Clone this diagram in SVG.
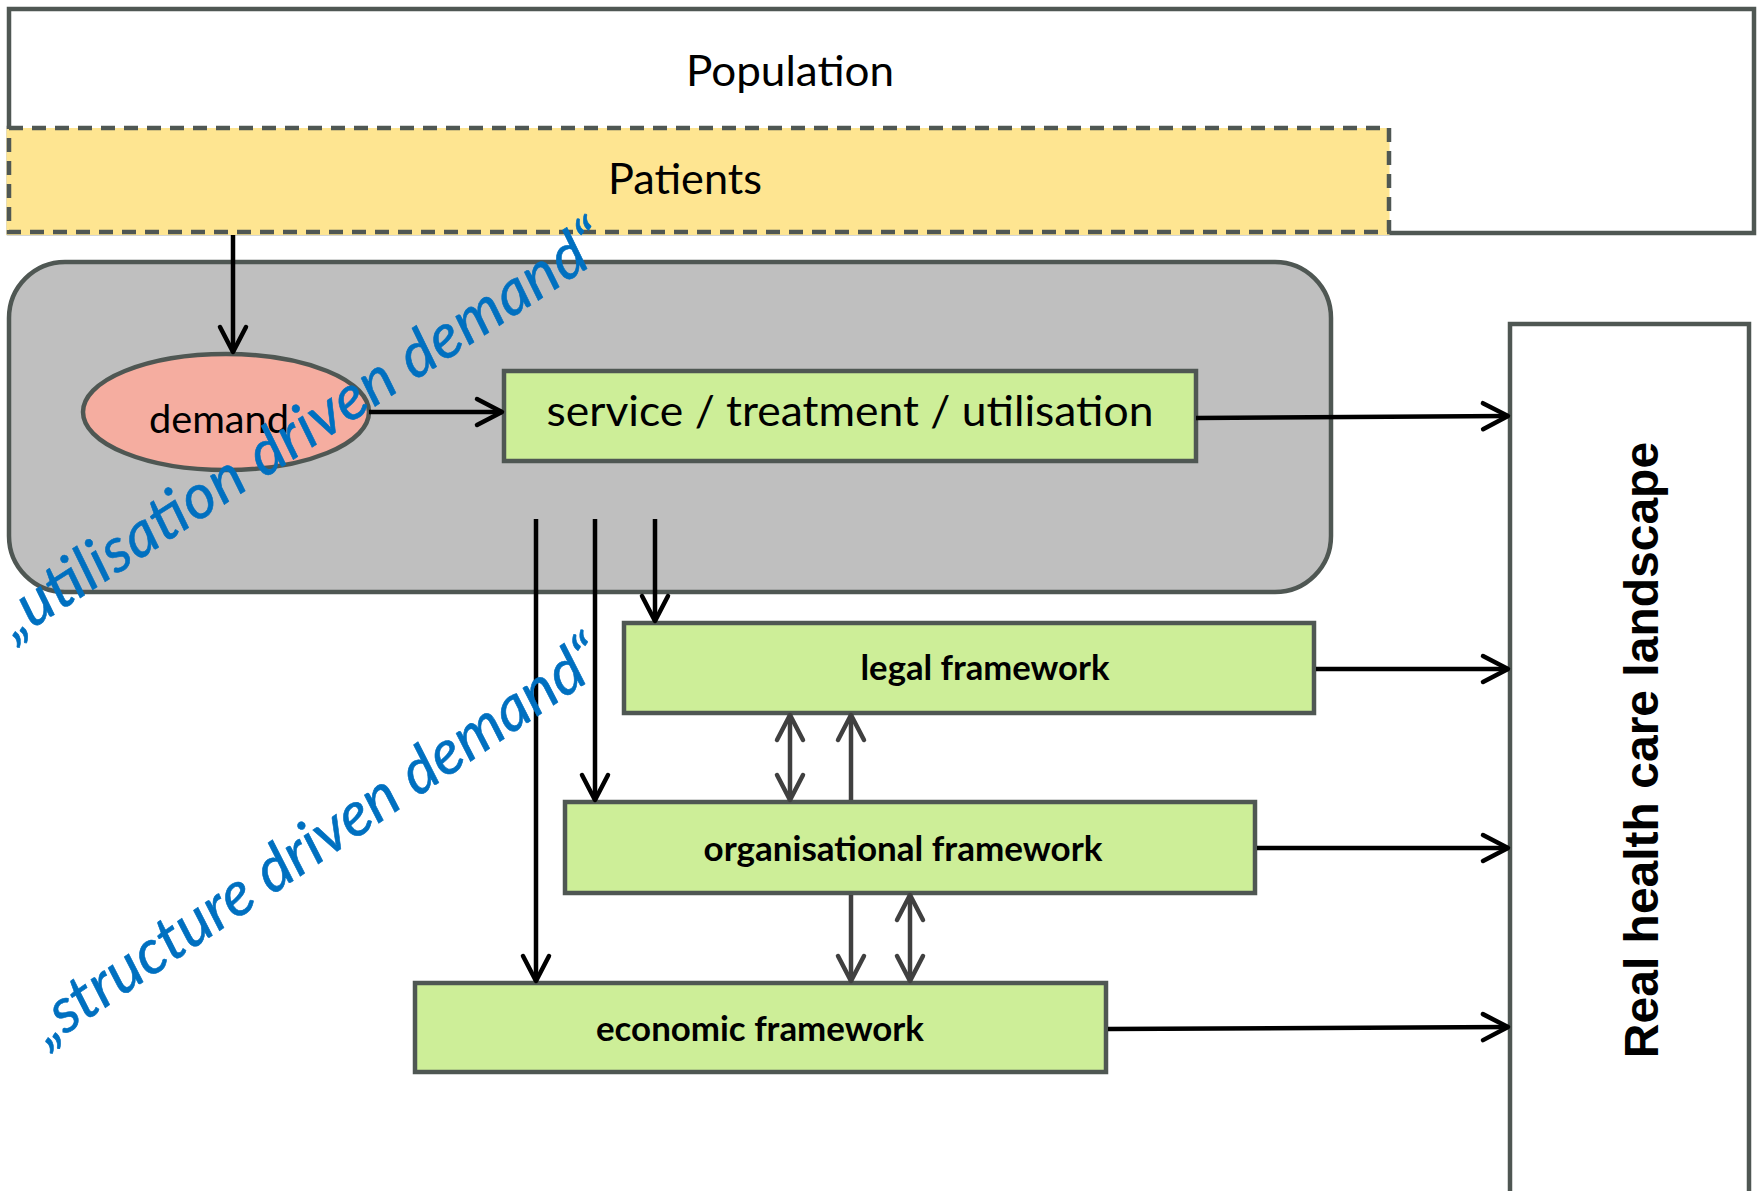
<svg xmlns="http://www.w3.org/2000/svg" width="1757" height="1191" viewBox="0 0 1757 1191">
<style>
.box{stroke:#4f5753;stroke-width:4.5}
.green{fill:#cdee98}
.lbl{font-family:Lato,"Open Sans",sans-serif;font-size:43px;fill:#000;text-anchor:middle}
.blbl{font-family:Lato,"Open Sans",sans-serif;font-size:34px;font-weight:bold;fill:#000;text-anchor:middle}
.blue{font-family:Lato,"Open Sans",sans-serif;font-size:62px;font-style:italic;fill:#0070c0;stroke:#0070c0;stroke-width:0.6;text-anchor:start}
.con{fill:none;stroke:#000;stroke-width:4.5}
.gcon{fill:none;stroke:#404040;stroke-width:4.5}
</style>
<defs>
<marker id="ah" markerWidth="34" markerHeight="32" refX="29" refY="16" orient="auto-start-reverse" markerUnits="userSpaceOnUse" overflow="visible">
<path d="M4,3 L29,16 L4,29" fill="none" stroke="#000" stroke-width="4.5" stroke-linecap="round" stroke-linejoin="round"/>
</marker>
<marker id="gah" markerWidth="34" markerHeight="32" refX="29" refY="16" orient="auto-start-reverse" markerUnits="userSpaceOnUse" overflow="visible">
<path d="M4,3 L29,16 L4,29" fill="none" stroke="#404040" stroke-width="4.5" stroke-linecap="round" stroke-linejoin="round"/>
</marker>
</defs>
<rect width="1757" height="1191" fill="#fff"/>

<g id="population">
<rect class="box" x="9" y="9" width="1745" height="224" fill="#fff"/>
<text class="lbl" x="790" y="86" textLength="208" lengthAdjust="spacingAndGlyphs">Population</text>
</g>

<g id="patients">
<rect x="6.5" y="128" width="1383" height="107" fill="#fee591"/>
<rect x="9" y="128" width="1380" height="104" fill="none" stroke="#4f5753" stroke-width="4.5" stroke-dasharray="14 9"/>
<text class="lbl" x="685" y="194" textLength="154" lengthAdjust="spacingAndGlyphs">Patients</text>
</g>

<g id="utilisation-area">
<rect class="box" x="9" y="262" width="1322" height="330" rx="56" ry="56" fill="#bfbfbf"/>
</g>

<g id="demand">
<ellipse class="box" cx="226" cy="412" rx="143" ry="58" fill="#f5ada0"/>
<text class="lbl" x="219" y="433" style="font-size:39px" textLength="140" lengthAdjust="spacingAndGlyphs">demand</text>
</g>

<g id="service">
<rect class="box green" x="504" y="371" width="692" height="90"/>
<text class="lbl" x="850" y="426" textLength="607" lengthAdjust="spacingAndGlyphs">service / treatment / utilisation</text>
</g>

<g id="legal">
<rect class="box green" x="624" y="623" width="690" height="90"/>
<text class="blbl" x="985" y="680" textLength="249" lengthAdjust="spacingAndGlyphs">legal framework</text>
</g>

<g id="organisational">
<rect class="box green" x="565" y="802" width="690" height="91"/>
<text class="blbl" x="903" y="861" textLength="399" lengthAdjust="spacingAndGlyphs">organisational framework</text>
</g>

<g id="economic">
<rect class="box green" x="415" y="983" width="691" height="89"/>
<text class="blbl" x="760" y="1041" textLength="328" lengthAdjust="spacingAndGlyphs">economic framework</text>
</g>

<g id="landscape">
<rect class="box" x="1510" y="324" width="239" height="900" fill="#fff"/>
<text x="1658" y="750" transform="rotate(-90 1658 750)" style="font-family:'Liberation Sans',Arial,sans-serif;font-size:48px;font-weight:bold;text-anchor:middle">Real health care landscape</text>
</g>

<g id="connectors">
<path class="con" d="M233,235 L233,352" marker-end="url(#ah)"/>
<path class="con" d="M369,412 L502,412" marker-end="url(#ah)"/>
<path class="con" d="M1196,418 L1508,416" marker-end="url(#ah)"/>
<path class="con" d="M1316,669 L1508,669" marker-end="url(#ah)"/>
<path class="con" d="M1257,848 L1508,848" marker-end="url(#ah)"/>
<path class="con" d="M1108,1029 L1508,1027" marker-end="url(#ah)"/>
<path class="con" d="M536,519 L536,981" marker-end="url(#ah)"/>
<path class="con" d="M595,519 L595,800" marker-end="url(#ah)"/>
<path class="con" d="M655,519 L655,621" marker-end="url(#ah)"/>
<path class="gcon" d="M790,715 L790,800" marker-start="url(#gah)" marker-end="url(#gah)"/>
<path class="gcon" d="M851,800 L851,715" marker-end="url(#gah)"/>
<path class="gcon" d="M851,895 L851,981" marker-end="url(#gah)"/>
<path class="gcon" d="M910,895 L910,981" marker-start="url(#gah)" marker-end="url(#gah)"/>
</g>

<g id="annotations">
<text class="blue" x="14" y="641" transform="rotate(-33 14 641)" textLength="712" lengthAdjust="spacing">„utilisation driven demand“</text>
<text class="blue" x="47" y="1047" transform="rotate(-34 47 1047)" textLength="677" lengthAdjust="spacing">„structure driven demand“</text>
</g>
</svg>
